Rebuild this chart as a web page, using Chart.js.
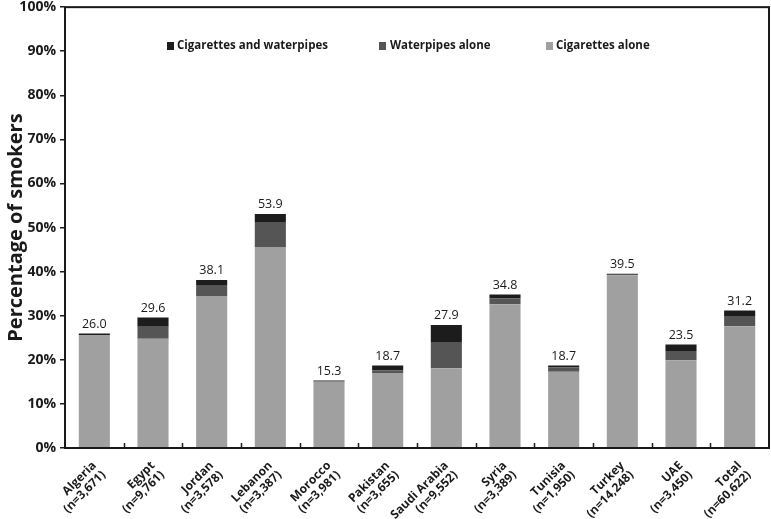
<!DOCTYPE html>
<html lang="en">
<head>
    <meta charset="UTF-8">
    <title>Percentage of smokers</title>
    <script src="https://cdn.jsdelivr.net/npm/chart.js@4.4.1/dist/chart.umd.min.js"></script>
    <style>
        body { margin: 0; background: #fff; }
        #wrap { width: 771px; height: 519px; }
    </style>
</head>
<body>
    <div id="wrap"><canvas id="myChart"></canvas></div>
    <script>
        // categories and sample sizes
        const countries = [
            ['Algeria', '(n=3,671)'], ['Egypt', '(n=9,761)'], ['Jordan', '(n=3,578)'],
            ['Lebanon', '(n=3,387)'], ['Morocco', '(n=3,981)'], ['Pakistan', '(n=3,655)'],
            ['Saudi Arabia', '(n=9,552)'], ['Syria', '(n=3,389)'], ['Tunisia', '(n=1,950)'],
            ['Turkey', '(n=14,248)'], ['UAE', '(n=3,450)'], ['Total', '(n=60,622)']
        ];
        // values (%)
        const cigarettesAlone = [25.5, 24.8, 34.5, 45.6, 15.0, 17.0, 18.1, 32.6, 17.3, 39.2, 19.9, 27.6];
        const waterpipesAlone = [0.1, 2.7, 2.3, 5.5, 0.1, 0.6, 5.8, 1.3, 1.0, 0.1, 2.1, 2.2];
        const cigAndWaterpipes = [0.4, 2.1, 1.3, 2.0, 0.2, 1.1, 4.0, 0.9, 0.4, 0.2, 1.5, 1.4];
        // printed totals above each bar
        const totals = ['26.0', '29.6', '38.1', '53.9', '15.3', '18.7', '27.9', '34.8', '18.7', '39.5', '23.5', '31.2'];

        const ink = '#1a1a1a';
        const font = '"Open Sans", sans-serif';

        // frame, inward x ticks, totals and legend inside the plot
        const extras = {
            id: 'extras',
            afterDatasetsDraw(chart) {
                const { ctx, chartArea: a, scales: { x, y } } = chart;
                ctx.save();
                ctx.fillStyle = ink;
                ctx.font = '12.5px ' + font;
                ctx.textAlign = 'center';
                ctx.textBaseline = 'bottom';
                totals.forEach((t, i) => {
                    const top = cigarettesAlone[i] + waterpipesAlone[i] + cigAndWaterpipes[i];
                    ctx.fillText(t, x.getPixelForValue(i), y.getPixelForValue(top) - 3);
                });

                ctx.strokeStyle = ink;
                ctx.lineWidth = 2;
                ctx.strokeRect(a.left, a.top, a.right - a.left, a.bottom - a.top);
                ctx.lineWidth = 1.5;
                const step = (a.right - a.left) / countries.length;
                for (let i = 1; i < countries.length; i++) {
                    const px = Math.round(a.left + i * step) + 0.5;
                    ctx.beginPath();
                    ctx.moveTo(px, a.bottom);
                    ctx.lineTo(px, a.bottom - 5);
                    ctx.stroke();
                }

                // legend
                const items = [
                    [chart.data.datasets[2], 167, 177],
                    [chart.data.datasets[1], 379, 390],
                    [chart.data.datasets[0], 546, 556]
                ];
                ctx.font = 'bold 11.5px ' + font;
                ctx.textAlign = 'left';
                ctx.textBaseline = 'middle';
                items.forEach(([ds, sx, tx]) => {
                    ctx.fillStyle = ds.backgroundColor;
                    ctx.fillRect(sx, 42, 7, 8);
                    ctx.fillStyle = ink;
                    ctx.fillText(ds.label, tx, 46);
                });
                ctx.restore();
            }
        };

        new Chart(document.getElementById('myChart'), {
            type: 'bar',
            data: {
                labels: countries,
                datasets: [
                    { label: 'Cigarettes alone', data: cigarettesAlone, backgroundColor: '#a0a0a0' },
                    { label: 'Waterpipes alone', data: waterpipesAlone, backgroundColor: '#555555' },
                    { label: 'Cigarettes and waterpipes', data: cigAndWaterpipes, backgroundColor: '#1c1c1c' }
                ]
            },
            options: {
                responsive: true,
                maintainAspectRatio: false,
                animation: false,
                layout: { padding: { top: 0, right: 2, left: 0, bottom: 0 } },
                plugins: { legend: { display: false }, tooltip: { enabled: false } },
                datasets: { bar: { barPercentage: 0.53, categoryPercentage: 1 } },
                scales: {
                    x: {
                        stacked: true,
                        grid: { display: false },
                        border: { display: false },
                        ticks: {
                            color: ink,
                            font: { family: font, size: 12, weight: 'bold', lineHeight: 1.1 },
                            maxRotation: 45, minRotation: 45, padding: 3, autoSkip: false
                        },
                        afterFit(s) { s.height = 71; }
                    },
                    y: {
                        stacked: true,
                        min: 0, max: 100,
                        grid: { drawOnChartArea: false, color: ink, lineWidth: 1.5, tickLength: 5 },
                        border: { display: false },
                        ticks: {
                            stepSize: 10, color: ink, padding: 4,
                            font: { family: font, size: 14, weight: 'bold', lineHeight: 0.45 },
                            callback: v => v + '%'
                        },
                        title: {
                            display: true, text: 'Percentage of smokers', color: ink,
                            font: { family: font, size: 20, weight: 'bold' }, padding: { top: 4, bottom: 0 }
                        },
                        afterFit(s) { s.width = 65; }
                    }
                }
            },
            plugins: [extras]
        });
    </script>
</body>
</html>
